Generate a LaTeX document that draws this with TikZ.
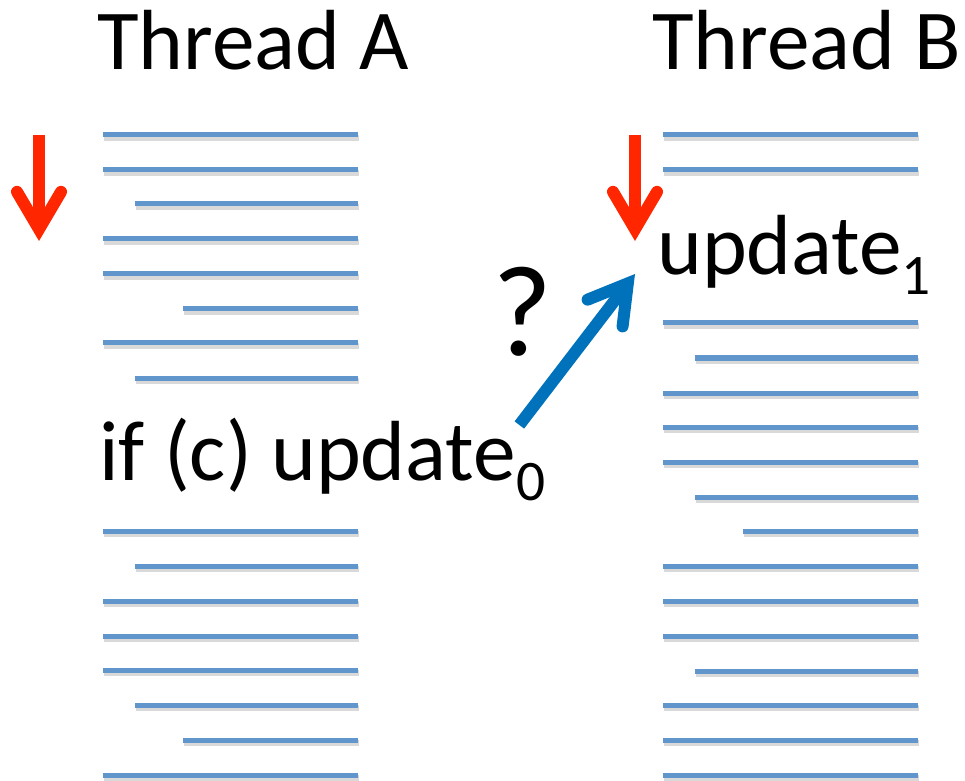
\documentclass[tikz,border=0pt]{standalone}
\usepackage{fontspec}
\setmainfont{Carlito}
\usetikzlibrary{arrows.meta}
\definecolor{codeblue}{RGB}{96,150,204}
\definecolor{markred}{RGB}{255,38,0}
\definecolor{raceblue}{RGB}{0,114,188}
\newcommand\idx[1]{\raisebox{-15pt}{\fontsize{43}{43}\selectfont #1}}
\tikzset{
  codeline/.style={draw=codeblue,line width=3.75pt,
    preaction={draw=black,opacity=.15,line width=4.5pt,transform canvas={shift={(0.6pt,-2.2pt)}}}},
  bigtext/.style={inner sep=0pt,anchor=base west,font=\fontsize{64}{64}\selectfont},
  fatarrow/.style={line width=9pt,-{Straight Barb[length=28pt,width=33pt,line cap=round,line join=miter]}}
}
\begin{document}
\begin{tikzpicture}[x=0.75pt,y=-0.75pt]
\useasboundingbox (0,0) rectangle (965,781);
\node[bigtext] (titleA) at (97,70) {Thread A};
\node[bigtext] (titleB) at (652,70) {Thread B};
\foreach \y/\l in {135/103,170/103,204/135,239/103,274/103,309/183,343/103,378/135,
                   531/103,566/135,601/103,636/103,670/103,705/135,740/183,775/103}
  \draw[codeline] (\l,\y) -- (358,\y);
\foreach \y/\l in {135/663,170/663,323/663,358/695,393/663,427/663,462/663,497/695,
                   531/743,566/663,601/663,636/663,671/695,705/663,740/663,775/663}
  \draw[codeline] (\l,\y) -- (918,\y);
\node[bigtext] (upd0) at (99,480) {if (c) update\idx{0}};
\node[bigtext] (upd1) at (657,275) {update\idx{1}};
\node[bigtext,font=\fontsize{97}{97}\selectfont] (quest) at (492,355) {?};
\draw[fatarrow,markred] (39,135) -- (39,241);
\draw[fatarrow,markred] (635,135) -- (635,241);
\draw[fatarrow,raceblue] ([shift={(-26,-55)}]upd0.base east) -- ([shift={(-22,-1)}]upd1.base west);
\end{tikzpicture}
\end{document}
